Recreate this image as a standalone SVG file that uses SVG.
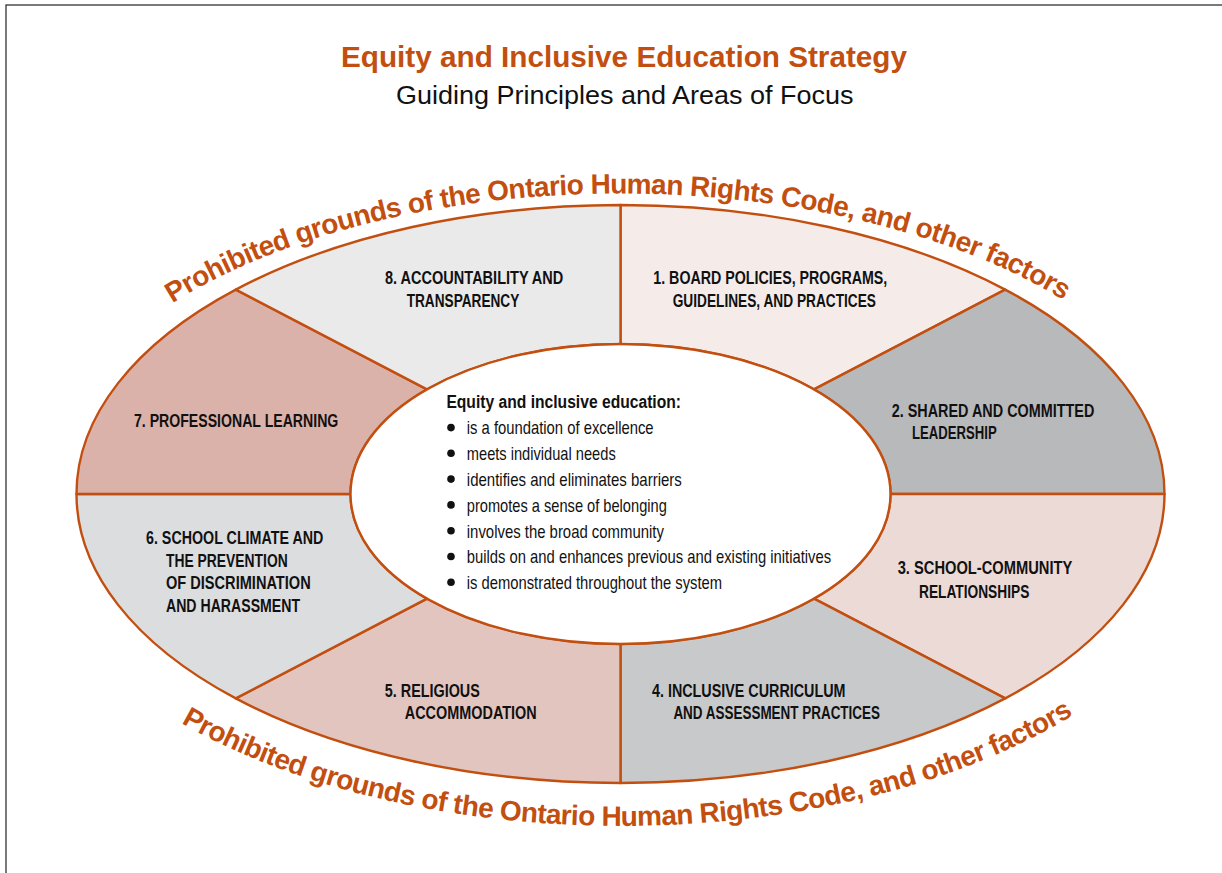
<svg xmlns="http://www.w3.org/2000/svg" width="1222" height="873" viewBox="0 0 1222 873">
<style>
.seg{stroke:#c24f10;stroke-width:2.4;stroke-linejoin:round}
.lbl{font-family:"Liberation Sans",Arial,sans-serif;font-weight:bold;font-size:18.5px;fill:#111}
.ctr{font-family:"Liberation Sans",Arial,sans-serif;font-size:18.5px;fill:#111}
.ctrh{font-family:"Liberation Sans",Arial,sans-serif;font-weight:bold;font-size:18px;fill:#111}
.arc{font-family:"Liberation Sans",Arial,sans-serif;font-weight:bold;font-size:28px;fill:#c24f10}
.dot{fill:#111}
</style>
<defs>
<path id="arcTop" d="M40.5,494 A580,300.5 0 0 1 1200.5,494"/>
<path id="arcBot" d="M13.5,494 A607,332 0 0 0 1227.5,494"/>
</defs>
<rect x="0" y="0" width="1222" height="873" fill="#fff"/>
<rect x="6" y="5" width="1240" height="900" fill="none" stroke="#333" stroke-width="1.3"/>

<g id="title">
<text x="341" y="67" textLength="566" lengthAdjust="spacingAndGlyphs" style="font-family:'Liberation Sans',Arial,sans-serif;font-weight:bold;font-size:29px;fill:#c24f10">Equity and Inclusive Education Strategy</text>
<text x="396" y="103.5" textLength="457.5" lengthAdjust="spacingAndGlyphs" style="font-family:'Liberation Sans',Arial,sans-serif;font-size:26.5px;fill:#111">Guiding Principles and Areas of Focus</text>
</g>

<g id="seg-1">
<path class="seg" fill="#f5ecea" d="M620.5,205 A544,289 0 0 1 1005.2,289.6 L814,389.4 A270,150 0 0 0 620.5,344 Z"/>
<text class="lbl" x="653.3" y="284" textLength="234" lengthAdjust="spacingAndGlyphs">1. BOARD POLICIES, PROGRAMS,</text>
<text class="lbl" x="672.7" y="306.7" textLength="203.3" lengthAdjust="spacingAndGlyphs">GUIDELINES, AND PRACTICES</text>
</g>
<g id="seg-2">
<path class="seg" fill="#b8b9bb" d="M1005.2,289.6 A544,289 0 0 1 1164.5,494 L890.5,494 A270,150 0 0 0 814,389.4 Z"/>
<text class="lbl" x="891.7" y="416.7" textLength="202.6" lengthAdjust="spacingAndGlyphs">2. SHARED AND COMMITTED</text>
<text class="lbl" x="912" y="439.3" textLength="84.7" lengthAdjust="spacingAndGlyphs">LEADERSHIP</text>
</g>
<g id="seg-3">
<path class="seg" fill="#ecdad6" d="M1164.5,494 A544,289 0 0 1 1005.2,698.4 L814,598.6 A270,150 0 0 0 890.5,494 Z"/>
<text class="lbl" x="897.7" y="574.3" textLength="174.6" lengthAdjust="spacingAndGlyphs">3. SCHOOL-COMMUNITY</text>
<text class="lbl" x="919" y="597.7" textLength="110.3" lengthAdjust="spacingAndGlyphs">RELATIONSHIPS</text>
</g>
<g id="seg-4">
<path class="seg" fill="#c8c9cb" d="M1005.2,698.4 A544,289 0 0 1 620.5,783 L620.5,644 A270,150 0 0 0 814,598.6 Z"/>
<text class="lbl" x="652" y="696.7" textLength="193.5" lengthAdjust="spacingAndGlyphs">4. INCLUSIVE CURRICULUM</text>
<text class="lbl" x="673.4" y="719.3" textLength="206.6" lengthAdjust="spacingAndGlyphs">AND ASSESSMENT PRACTICES</text>
</g>
<g id="seg-5">
<path class="seg" fill="#e3c5c0" d="M620.5,783 A544,289 0 0 1 235.8,698.4 L427,598.6 A270,150 0 0 0 620.5,644 Z"/>
<text class="lbl" x="384.8" y="696.7" textLength="95" lengthAdjust="spacingAndGlyphs">5. RELIGIOUS</text>
<text class="lbl" x="404.8" y="719.3" textLength="131.9" lengthAdjust="spacingAndGlyphs">ACCOMMODATION</text>
</g>
<g id="seg-6">
<path class="seg" fill="#dcdddf" d="M235.8,698.4 A544,289 0 0 1 76.5,494 L350.5,494 A270,150 0 0 0 427,598.6 Z"/>
<text class="lbl" x="146" y="544" textLength="177.3" lengthAdjust="spacingAndGlyphs">6. SCHOOL CLIMATE AND</text>
<text class="lbl" x="166" y="566.7" textLength="121.7" lengthAdjust="spacingAndGlyphs">THE PREVENTION</text>
<text class="lbl" x="166" y="589.3" textLength="144.7" lengthAdjust="spacingAndGlyphs">OF DISCRIMINATION</text>
<text class="lbl" x="166" y="612.3" textLength="134" lengthAdjust="spacingAndGlyphs">AND HARASSMENT</text>
</g>
<g id="seg-7">
<path class="seg" fill="#dbb2aa" d="M76.5,494 A544,289 0 0 1 235.8,289.6 L427,389.4 A270,150 0 0 0 350.5,494 Z"/>
<text class="lbl" x="134" y="426.7" textLength="204.3" lengthAdjust="spacingAndGlyphs">7. PROFESSIONAL LEARNING</text>
</g>
<g id="seg-8">
<path class="seg" fill="#eaeaea" d="M235.8,289.6 A544,289 0 0 1 620.5,205 L620.5,344 A270,150 0 0 0 427,389.4 Z"/>
<text class="lbl" x="385" y="284.3" textLength="178.3" lengthAdjust="spacingAndGlyphs">8. ACCOUNTABILITY AND</text>
<text class="lbl" x="406.7" y="306.7" textLength="112.6" lengthAdjust="spacingAndGlyphs">TRANSPARENCY</text>
</g>

<g id="center">
<ellipse cx="620.5" cy="494" rx="270" ry="150" fill="#fff" stroke="#c24f10" stroke-width="2.4"/>
<text class="ctrh" x="446.4" y="408.3" textLength="234.6" lengthAdjust="spacingAndGlyphs">Equity and inclusive education:</text>
<circle class="dot" cx="451" cy="427.6" r="3.8"/>
<circle class="dot" cx="451" cy="453.3" r="3.8"/>
<circle class="dot" cx="451" cy="479.1" r="3.8"/>
<circle class="dot" cx="451" cy="504.9" r="3.8"/>
<circle class="dot" cx="451" cy="530.7" r="3.8"/>
<circle class="dot" cx="451" cy="556.5" r="3.8"/>
<circle class="dot" cx="451" cy="582.3" r="3.8"/>
<text class="ctr" x="466.8" y="434.3" textLength="186.8" lengthAdjust="spacingAndGlyphs">is a foundation of excellence</text>
<text class="ctr" x="466.8" y="460.1" textLength="148.9" lengthAdjust="spacingAndGlyphs">meets individual needs</text>
<text class="ctr" x="466.8" y="485.9" textLength="215" lengthAdjust="spacingAndGlyphs">identifies and eliminates barriers</text>
<text class="ctr" x="466.8" y="511.7" textLength="200" lengthAdjust="spacingAndGlyphs">promotes a sense of belonging</text>
<text class="ctr" x="466.8" y="537.5" textLength="197.1" lengthAdjust="spacingAndGlyphs">involves the broad community</text>
<text class="ctr" x="466.8" y="563.3" textLength="364.3" lengthAdjust="spacingAndGlyphs">builds on and enhances previous and existing initiatives</text>
<text class="ctr" x="466.8" y="589.1" textLength="255.3" lengthAdjust="spacingAndGlyphs">is demonstrated throughout the system</text>
</g>

<g id="ring-text">
<text class="arc" text-anchor="middle"><textPath href="#arcTop" startOffset="706" textLength="928" lengthAdjust="spacing">Prohibited grounds of the Ontario Human Rights Code, and other factors</textPath></text>
<text class="arc" text-anchor="middle"><textPath href="#arcBot" startOffset="761" textLength="928" lengthAdjust="spacing">Prohibited grounds of the Ontario Human Rights Code, and other factors</textPath></text>
</g>

<g id="connectors"></g>
</svg>
